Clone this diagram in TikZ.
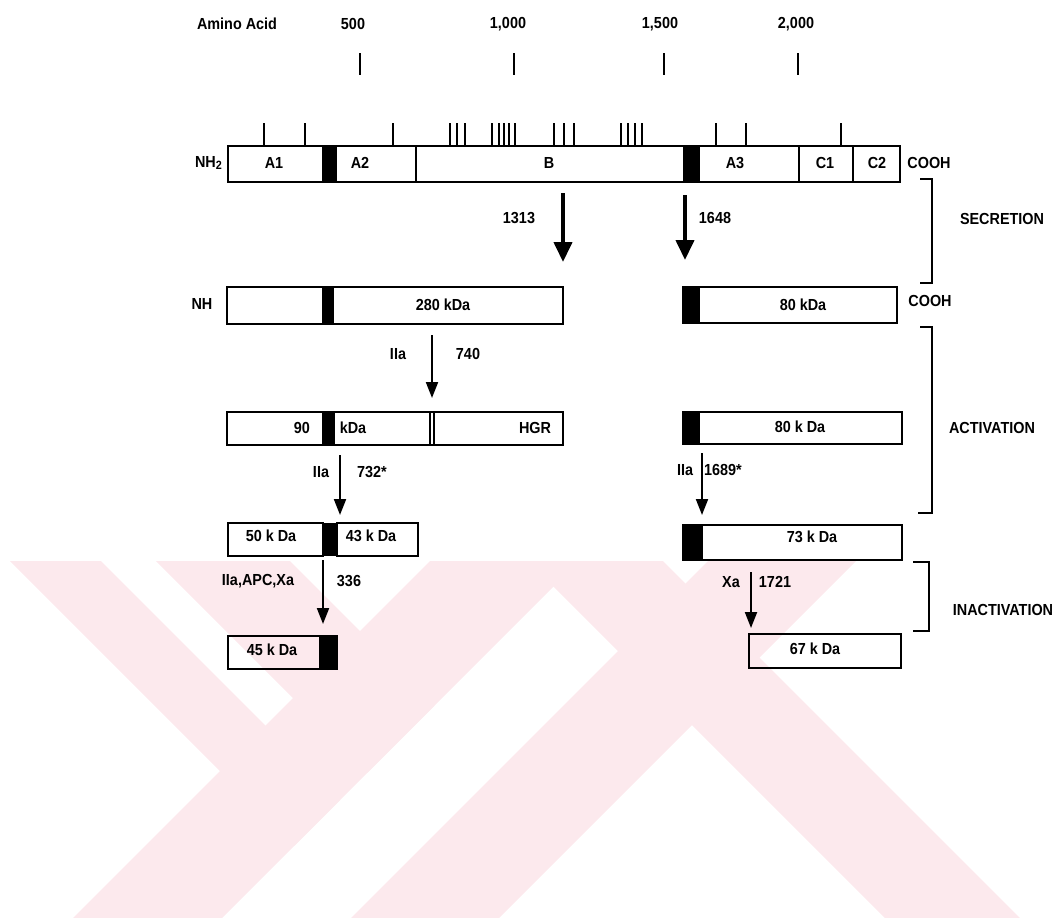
\documentclass[tikz,border=0pt]{standalone}
\usepackage{fontspec}
\setmainfont{Liberation Sans}[FakeStretch=0.9]
\usepackage{tikz}
\usetikzlibrary{arrows.meta}
\definecolor{wmpink}{RGB}{252,233,237}

\begin{document}
\begin{tikzpicture}[x=0.5pt,y=-0.5pt,line width=1pt,
    box/.style={draw=black,line width=1.1pt},
    lbl/.style={font=\bfseries\fontsize{8}{9}\selectfont,inner sep=0pt},
    cut/.style={-{Triangle[width=6pt,length=8pt]},line width=1pt},
    bigcut/.style={-{Triangle[width=9pt,length=10pt]},line width=2pt},
    brak/.style={line width=1.2pt},
    ]
\useasboundingbox (0,0) rectangle (1061,917);

% background watermark
\begin{scope}
\clip (0,561) rectangle (1061,917);
\fill[wmpink] (-40,511) -- (51,511) -- (340,800) -- (294.5,845.5) -- cycle;
\fill[wmpink] (106,511) -- (240,511) -- (434.5,705.5) -- (367.5,772.5) -- cycle;
\fill[wmpink] (24,967) -- (173,967) -- (629,511) -- (480,511) -- cycle;
\fill[wmpink] (302,967) -- (450,967) -- (906,511) -- (758,511) -- cycle;
\fill[wmpink] (478,511) -- (613,511) -- (1069,967) -- (934,967) -- cycle;
\end{scope}

% amino acid scale
\node[lbl] (aa) at (237,24) {Amino Acid};
\node[lbl] (s500) at (353,24) {500};
\node[lbl] (s1000) at (508,24) {1,000};
\node[lbl] (s1500) at (660,24) {1,500};
\node[lbl] (s2000) at (796,24) {2,000};
\foreach \x in {360,514,664,798}
  \draw (\x,53) -- (\x,75);

% sites above the chain
\foreach \x in {264,305,393,450,457,465,492,499,504,509,515,554,564,574,621,628,635,642,716,746,841}
  \draw (\x,123) -- (\x,146);

% single chain
\draw[box] (228,146) rectangle (900,182);
\fill (322,146) rectangle (337,182);
\fill (683,146) rectangle (700,182);
\draw (416,146) -- (416,182);
\draw (799,146) -- (799,182);
\draw (853,146) -- (853,182);
\node[lbl] (nh2) at (209,163) {NH\textsubscript{2}};
\node[lbl] (dA1) at (274,163) {A1};
\node[lbl] (dA2) at (360,163) {A2};
\node[lbl] (dB) at (549,163) {B};
\node[lbl] (dA3) at (735,163) {A3};
\node[lbl] (dC1) at (825,163) {C1};
\node[lbl] (dC2) at (877,163) {C2};
\node[lbl] (cooh1) at (929,163) {COOH};

% secretion
\coordinate (sec1a) at (563,193);
\coordinate (sec1b) at (563,262);
\coordinate (sec2a) at (685,195);
\coordinate (sec2b) at (685,260);
\draw[bigcut] (sec1a) -- (sec1b);
\draw[bigcut] (sec2a) -- (sec2b);
\node[lbl] (n1313) at (519,218) {1313};
\node[lbl] (n1648) at (715,218) {1648};
\draw[brak] (920,179) -- (932,179) -- (932,283) -- (920,283);
\node[lbl] (secr) at (1002,219) {SECRETION};

% heavy and light chain
\draw[box] (227,287) rectangle (563,324);
\fill (322,287) rectangle (334,324);
\node[lbl] (nh) at (202,304) {NH};
\node[lbl] (hc) at (443,305) {280 kDa};
\draw[box] (683,287) rectangle (897,323);
\fill (683,287) rectangle (700,323);
\node[lbl] (lc) at (803,305) {80 kDa};
\node[lbl] (cooh2) at (930,301) {COOH};

% activation
\draw[brak] (920,327) -- (932,327) -- (932,513) -- (918,513);
\node[lbl] (actv) at (992,428) {ACTIVATION};
\coordinate (a740a) at (432,335);
\coordinate (a740b) at (432,398);
\draw[cut] (a740a) -- (a740b);
\node[lbl] (iia1) at (398,354) {IIa};
\node[lbl] (n740) at (468,354) {740};

\draw[box] (227,412) rectangle (563,445);
\fill (322,412) rectangle (335,445);
\draw[line width=0.6pt] (430,412) -- (430,445) (434,412) -- (434,445);
\node[lbl] (h90) at (302,428) {90};
\node[lbl] (hkda) at (353,428) {kDa};
\node[lbl] (hgr) at (535,428) {HGR};
\draw[box] (683,412) rectangle (902,444);
\fill (683,412) rectangle (700,444);
\node[lbl] (l80) at (800,427) {80 k Da};

\coordinate (a732a) at (340,455);
\coordinate (a732b) at (340,515);
\draw[cut] (a732a) -- (a732b);
\node[lbl] (iia2) at (321,472) {IIa};
\node[lbl] (n732) at (372,472) {732*};
\coordinate (a1689a) at (702,453);
\coordinate (a1689b) at (702,515);
\draw[cut] (a1689a) -- (a1689b);
\node[lbl] (iia3) at (685,470) {IIa};
\node[lbl] (n1689) at (723,470) {1689*};

\draw[box] (228,523) rectangle (323,556);
\fill (323,523) rectangle (337,556);
\draw[box] (337,523) rectangle (418,556);
\node[lbl] (h50) at (271,536) {50 k Da};
\node[lbl] (h43) at (371,536) {43 k Da};
\draw[box] (683,525) rectangle (902,560);
\fill (683,525) rectangle (703,560);
\node[lbl] (l73) at (812,537) {73 k Da};

% inactivation
\draw[brak] (913,562) -- (929,562) -- (929,631) -- (913,631);
\node[lbl] (inact) at (1003,610) {INACTIVATION};
\coordinate (a336a) at (323,560);
\coordinate (a336b) at (323,624);
\draw[cut] (a336a) -- (a336b);
\node[lbl] (apc) at (258,581) {IIa,APC,Xa};
\node[lbl] (n336) at (349,581) {336};
\coordinate (a1721a) at (751,572);
\coordinate (a1721b) at (751,628);
\draw[cut] (a1721a) -- (a1721b);
\node[lbl] (xa) at (731,582) {Xa};
\node[lbl] (n1721) at (775,582) {1721};

\draw[box] (228,636) rectangle (337,669);
\fill (319,636) rectangle (337,669);
\node[lbl] (h45) at (272,650) {45 k Da};
\draw[box] (749,634) rectangle (901,668);
\node[lbl] (l67) at (815,649) {67 k Da};
\end{tikzpicture}
\end{document}
